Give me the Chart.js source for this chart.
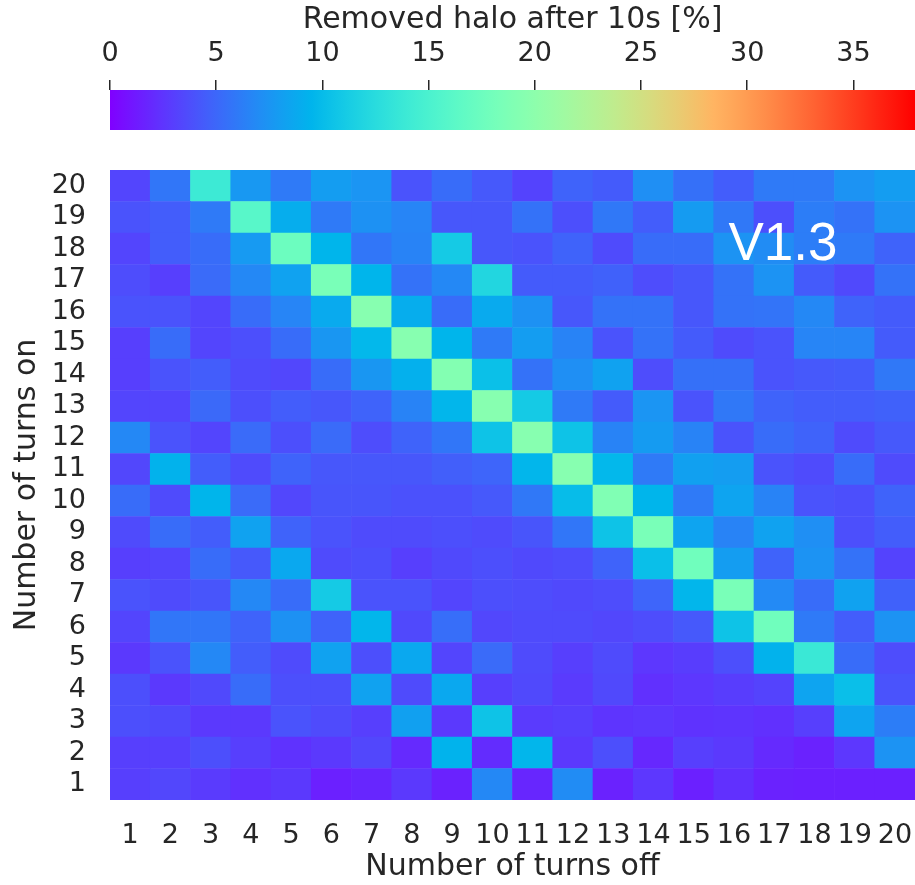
<!DOCTYPE html>
<html>
<head>
<meta charset="utf-8">
<script src="https://cdn.jsdelivr.net/npm/chart.js@4.4.0/dist/chart.umd.min.js"></script>
<style>
  html, body { margin: 0; padding: 0; background: #fff; }
  #wrap { position: relative; width: 915px; height: 885px; }
  #colorbar { position: absolute; left: 0; top: 0; }
  #heatmap { position: absolute; left: 0; top: 140px; }
</style>
</head>
<body>
<div id="wrap">
  <canvas id="colorbar" width="915" height="140"></canvas>
  <canvas id="heatmap" width="915" height="745"></canvas>
</div>
<script>
// removed halo after 10s [%], one array per "turns on" row, columns = turns off 1..20
const turnsOff = ["1","2","3","4","5","6","7","8","9","10","11","12","13","14","15","16","17","18","19","20"];
const turnsOn  = ["1","2","3","4","5","6","7","8","9","10","11","12","13","14","15","16","17","18","19","20"];

const on1  = [3.0, 3.4, 2.8, 2.3, 2.7, 1.5, 1.8, 2.7, 1.6, 6.8, 1.8, 7.0, 1.6, 2.6, 1.5, 2.3, 1.6, 1.5, 1.5, 1.5];
const on2  = [3.0, 3.0, 3.8, 3.0, 2.4, 2.7, 3.4, 2.0, 9.4, 2.1, 9.6, 2.7, 3.8, 1.9, 3.0, 2.7, 2.0, 1.6, 2.6, 7.4];
const on3  = [3.8, 3.5, 2.7, 2.7, 4.0, 3.6, 3.0, 8.2, 2.7, 10.5, 2.8, 3.0, 2.5, 2.6, 2.4, 2.5, 2.3, 3.0, 8.4, 6.2];
const on4  = [3.8, 2.7, 3.5, 5.3, 3.8, 3.8, 8.3, 3.6, 8.7, 3.0, 3.5, 2.8, 3.5, 2.3, 2.6, 2.9, 3.2, 8.4, 10.2, 4.0];
const on5  = [2.7, 4.0, 6.8, 4.5, 3.6, 8.3, 3.8, 8.7, 3.3, 5.2, 3.6, 3.0, 3.6, 2.6, 2.9, 3.8, 9.3, 13.8, 5.3, 3.7];
const on6  = [3.3, 5.8, 5.8, 4.8, 7.3, 4.8, 9.6, 3.5, 5.4, 3.4, 3.6, 3.6, 3.4, 3.7, 4.3, 10.5, 17.8, 6.0, 4.5, 7.4];
const on7  = [4.0, 3.6, 4.1, 6.8, 5.3, 11.0, 4.0, 4.0, 3.3, 3.8, 3.7, 3.5, 3.7, 4.9, 9.6, 18.5, 6.9, 5.3, 8.3, 4.7];
const on8  = [3.0, 3.3, 5.3, 4.3, 8.7, 3.6, 3.8, 3.0, 3.5, 3.8, 3.5, 3.7, 4.8, 10.2, 17.8, 8.0, 4.8, 7.4, 5.6, 3.2];
const on9  = [3.6, 5.3, 4.5, 8.3, 4.8, 4.0, 3.6, 3.6, 3.8, 3.6, 4.1, 5.8, 10.5, 18.5, 8.4, 6.5, 8.3, 7.2, 3.8, 4.5];
const on10 = [5.3, 3.6, 9.5, 5.2, 3.4, 4.1, 4.1, 3.9, 3.9, 4.3, 5.9, 10.0, 19.0, 9.5, 6.0, 8.4, 6.5, 4.0, 3.8, 4.8];
const on11 = [3.4, 9.3, 4.5, 3.6, 4.8, 4.2, 4.2, 4.2, 4.6, 4.9, 9.6, 19.5, 9.7, 6.0, 8.2, 8.0, 4.0, 3.6, 5.3, 3.6];
const on12 = [6.8, 4.0, 3.3, 5.2, 3.8, 5.2, 3.7, 4.8, 5.8, 10.5, 19.5, 10.5, 6.5, 7.9, 6.5, 4.0, 5.3, 4.8, 3.6, 4.3];
const on13 = [3.3, 3.3, 5.1, 3.8, 4.5, 4.2, 4.8, 6.5, 9.6, 19.5, 11.0, 6.0, 4.4, 7.5, 4.0, 5.9, 4.8, 4.5, 4.5, 4.7];
const on14 = [3.0, 4.0, 4.5, 3.6, 3.4, 5.3, 7.6, 9.2, 19.2, 10.3, 5.6, 7.2, 8.3, 3.7, 5.5, 5.5, 4.0, 4.3, 4.4, 5.9];
const on15 = [3.0, 5.3, 3.3, 3.8, 5.3, 7.6, 9.7, 19.5, 9.5, 6.0, 8.0, 6.5, 4.0, 5.6, 4.4, 3.6, 4.0, 6.6, 6.6, 4.4];
const on16 = [4.0, 4.0, 3.3, 5.3, 6.6, 8.8, 19.5, 9.0, 5.3, 8.8, 7.3, 4.2, 5.6, 5.6, 4.2, 5.6, 5.7, 6.8, 4.8, 4.4];
const on17 = [3.7, 3.0, 5.2, 6.8, 8.3, 18.5, 9.5, 5.6, 6.8, 12.0, 4.4, 4.4, 4.7, 3.7, 4.2, 5.6, 7.4, 4.4, 3.5, 5.6];
const on18 = [3.3, 4.5, 5.3, 7.8, 17.5, 9.5, 5.8, 6.5, 11.0, 4.2, 4.0, 4.8, 3.6, 5.3, 5.3, 7.4, 7.0, 6.2, 6.0, 4.8];
const on19 = [4.0, 4.5, 6.0, 16.0, 9.0, 6.0, 7.3, 6.6, 4.2, 4.2, 5.6, 3.8, 5.9, 4.5, 7.9, 5.9, 3.8, 6.2, 5.6, 7.4];
const on20 = [3.3, 5.8, 14.0, 7.7, 6.0, 8.0, 7.5, 4.0, 5.3, 4.3, 3.2, 4.8, 4.4, 7.2, 5.5, 4.5, 6.0, 6.0, 7.4, 8.0];

const rows = [on1, on2, on3, on4, on5, on6, on7, on8, on9, on10,
              on11, on12, on13, on14, on15, on16, on17, on18, on19, on20];

// colour scale limits
const vmin = 0;
const vmax = 37.9;
const cbTicks = [0, 5, 10, 15, 20, 25, 30, 35];

const textColor = "#262626";
const font = { family: "DejaVu Sans", size: 27 };
const titleFont = { family: "DejaVu Sans", size: 30 };

// matplotlib "rainbow" colormap
function rainbow(t) {
  t = Math.min(1, Math.max(0, t));
  const r = Math.min(1, Math.abs(2 * t - 0.5));
  const g = Math.sin(Math.PI * t);
  const b = Math.cos(Math.PI * t / 2);
  return `rgb(${Math.round(r * 255)},${Math.round(g * 255)},${Math.round(b * 255)})`;
}

// drop the automatic label overhang padding so the cell area keeps its size
function noOverhang(s) {
  s.paddingLeft = 0; s.paddingRight = 0; s.paddingTop = 0; s.paddingBottom = 0;
}

// ---- colorbar ----
const gradientPlugin = {
  id: "gradientFill",
  beforeDraw(chart) {
    const { ctx, chartArea: a } = chart;
    const grad = ctx.createLinearGradient(a.left, 0, a.right, 0);
    for (let i = 0; i <= 64; i++) grad.addColorStop(i / 64, rainbow(i / 64));
    ctx.save();
    ctx.fillStyle = grad;
    ctx.fillRect(a.left, a.top, a.right - a.left, a.bottom - a.top);
    ctx.restore();
  }
};

new Chart(document.getElementById("colorbar"), {
  type: "bar",
  data: { datasets: [] },
  plugins: [gradientPlugin],
  options: {
    responsive: false,
    animation: false,
    events: [],
    layout: { padding: { left: 110, right: 0, top: 0, bottom: 10 } },
    plugins: { legend: { display: false }, tooltip: { enabled: false } },
    scales: {
      x: {
        type: "linear",
        position: "top",
        offset: false,
        min: vmin,
        max: vmax,
        afterBuildTicks: s => { s.ticks = cbTicks.map(v => ({ value: v })); },
        afterFit: s => { s.height = 90; noOverhang(s); },
        ticks: { font, color: textColor, padding: 10, maxRotation: 0 },
        grid: { offset: false, drawOnChartArea: false, drawTicks: true, tickLength: 10, color: textColor, lineWidth: 1.5 },
        border: { display: false },
        title: { display: true, text: "Removed halo after 10s [%]", font: titleFont, color: textColor, padding: { top: 2, bottom: 0 } }
      },
      y: { display: false, min: 0, max: 1 }
    }
  }
});

// ---- heatmap ----
const labelPlugin = {
  id: "versionLabel",
  afterDraw(chart) {
    const { ctx, chartArea: a } = chart;
    ctx.save();
    ctx.fillStyle = "#ffffff";
    ctx.font = "53px 'Liberation Sans'";
    ctx.textAlign = "center";
    ctx.textBaseline = "middle";
    ctx.fillText("V1.3", a.left + 0.836 * (a.right - a.left), a.top + 0.12 * (a.bottom - a.top));
    ctx.restore();
  }
};

const datasets = rows.map((vals, i) => ({
  label: turnsOn[i],
  data: vals.map(() => 1),
  backgroundColor: vals.map(v => rainbow((v - vmin) / (vmax - vmin))),
  borderWidth: 0,
  barPercentage: 1,
  categoryPercentage: 1
}));

new Chart(document.getElementById("heatmap"), {
  type: "bar",
  data: { labels: turnsOff, datasets },
  plugins: [labelPlugin],
  options: {
    responsive: false,
    animation: false,
    events: [],
    layout: { padding: { left: 0, right: 0, top: 30, bottom: 0 } },
    plugins: { legend: { display: false }, tooltip: { enabled: false } },
    scales: {
      x: {
        stacked: true,
        afterFit: s => { s.height = 85; noOverhang(s); },
        ticks: { font, color: textColor, padding: 20, autoSkip: false, maxRotation: 0 },
        grid: { display: false, drawTicks: false },
        border: { display: false },
        title: { display: true, text: "Number of turns off", font: titleFont, color: textColor, padding: { top: 0, bottom: 0 } }
      },
      y: {
        stacked: true,
        min: 0,
        max: turnsOn.length,
        afterFit: s => { s.width = 110; noOverhang(s); },
        afterBuildTicks: s => { s.ticks = turnsOn.map((l, i) => ({ value: i + 0.5 })); },
        ticks: { font, color: textColor, padding: 24, autoSkip: false, callback: (v, i) => turnsOn[i] },
        grid: { display: false, drawTicks: false },
        border: { display: false },
        title: { display: true, text: "Number of turns on", font: titleFont, color: textColor, padding: { top: 9, bottom: 0 } }
      }
    }
  }
});
</script>
</body>
</html>
